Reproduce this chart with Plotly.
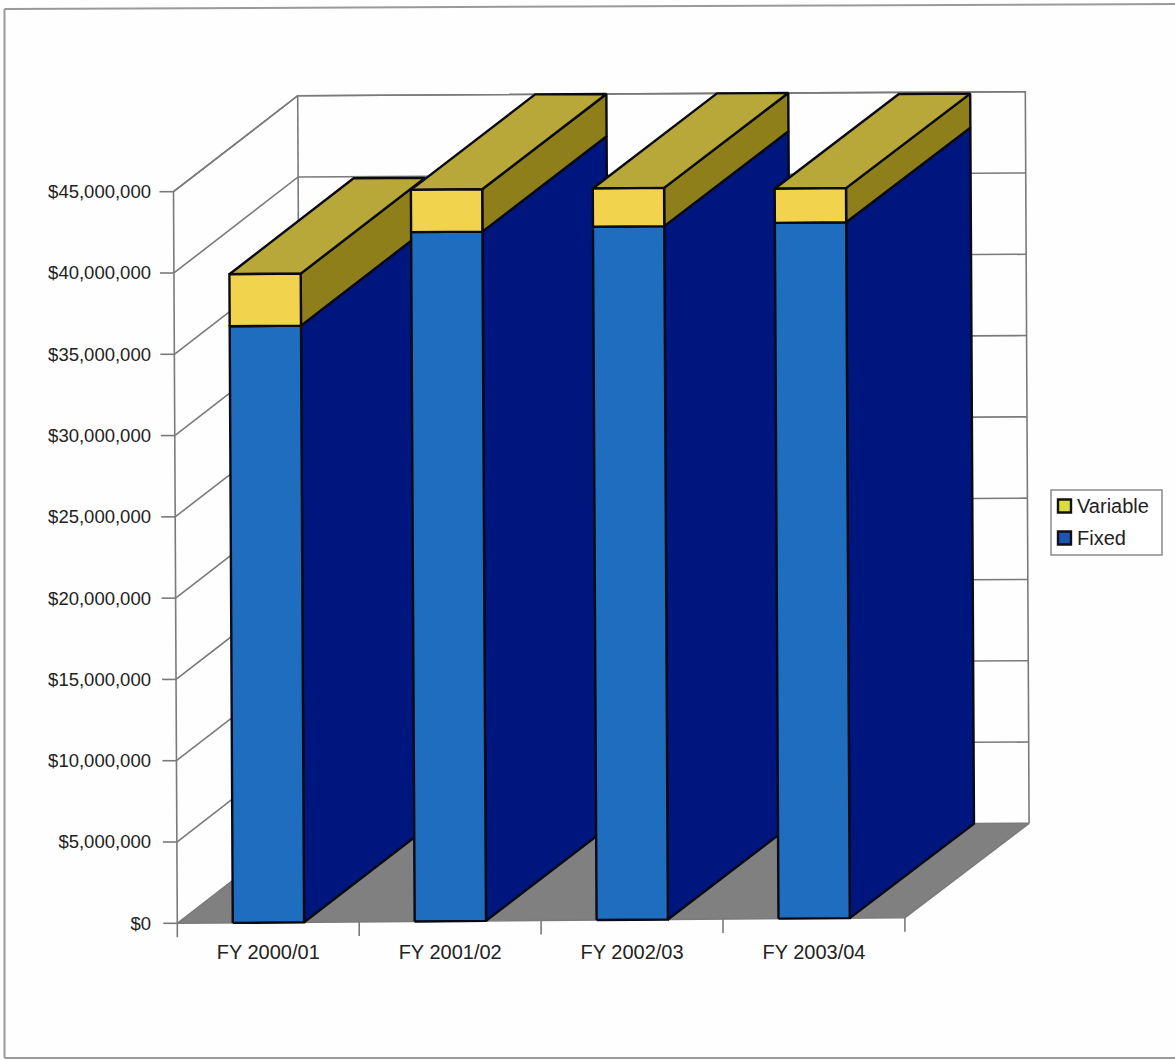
import plotly.graph_objects as go

categories = ["FY 2000/01", "FY 2001/02", "FY 2002/03", "FY 2003/04"]
fixed = [36700000, 42400000, 42650000, 42800000]
variable = [3200000, 2600000, 2350000, 2100000]
value_ticks = [0, 5000000, 10000000, 15000000, 20000000, 25000000, 30000000, 35000000, 40000000, 45000000]
value_tick_labels = ["$0", "$5,000,000", "$10,000,000", "$15,000,000", "$20,000,000",
                     "$25,000,000", "$30,000,000", "$35,000,000", "$40,000,000", "$45,000,000"]
legend_labels = ["Variable", "Fixed"]

WIDTH, HEIGHT = 1175, 1061
# The subplot is padded around the 3-D box so its oblique edges stay inside the clip area.
LEFT, TOP, RIGHT, BOTTOM = 155, 85, 1036, 938
ORIGIN_X, ORIGIN_Y = 177.3, 923.3

# Oblique projection, in pixels: one category step, the full value scale, full depth.
STEP_X, STEP_RISE = 181.9, 1.4
VMAX = 45000000
VALUE_PX, VALUE_LEAN = 731.6, -3.8
DEPTH_X, DEPTH_Y, DEPTH_Y_TAPER = 124.2, 96.0, 0.4
PX_PER_VALUE = VALUE_PX / VMAX

BAR_START, BAR_END = 0.305, 0.697
BAR_DEPTH = 1.0

FONT = dict(family="Liberation Sans, Arial, sans-serif", size=18.5, color="#222222")
WIDE_FONT = dict(family="Liberation Sans, Arial, sans-serif", size=20, color="#222222")
WALL = "#7a7a7a"
FRONT_FIXED, SIDE_FIXED = "#1f6dbf", "#00167f"
FRONT_VAR, SIDE_VAR, TOP_VAR = "#f2d34e", "#8f7f1a", "#b8a83a"
FLOOR = "#808080"


def project(cat, val, depth=0.0):
    """Map (category, value, depth) onto the flat axes of the 2-D subplot."""
    x = cat + (VALUE_LEAN * val / VMAX + DEPTH_X * depth) / STEP_X
    y = val + (STEP_RISE * cat + (DEPTH_Y - DEPTH_Y_TAPER * cat) * depth) / PX_PER_VALUE
    return x, y


def polyline(points):
    xy = [project(*p) for p in points]
    return [q[0] for q in xy], [q[1] for q in xy]


def add_lines(fig, points, color=WALL, width=1.6):
    xs, ys = polyline(points)
    fig.add_trace(go.Scatter(x=xs, y=ys, mode="lines", line=dict(color=color, width=width),
                             hoverinfo="skip", showlegend=False))


def add_face(fig, points, fill, name, line_color="#0a0a14", width=2.4):
    xs, ys = polyline(points + points[:1])
    fig.add_trace(go.Scatter(x=xs, y=ys, mode="lines", fill="toself", fillcolor=fill,
                             line=dict(color=line_color, width=width), name=name,
                             showlegend=False, hoverinfo="name"))


fig = go.Figure()
n = len(categories)

# Floor
add_face(fig, [(0, 0, 0), (n, 0, 0), (n, 0, 1), (0, 0, 1)], FLOOR, "Floor", line_color=WALL, width=1.5)

# Walls and gridlines
for v in value_ticks[1:]:
    add_lines(fig, [(0, v, 0), (0, v, 1), (n, v, 1)])
top_value = value_ticks[-1]
add_lines(fig, [(0, 0, 0), (0, top_value, 0), (0, top_value, 1), (n, top_value, 1), (n, 0, 1)])
add_lines(fig, [(0, 0, 1), (0, top_value, 1)])

# Tick marks, leaning with the axes they sit on
tick_px = 14
xs, ys = [], []
for v in value_ticks:
    x0, y0 = project(0, v)
    xs += [x0 - tick_px / STEP_X, x0, None]
    ys += [y0, y0, None]
for i in range(n + 1):
    x0, y0 = project(i, 0)
    xs += [x0, x0, None]
    ys += [y0, y0 - tick_px / PX_PER_VALUE, None]
fig.add_trace(go.Scatter(x=xs, y=ys, mode="lines", line=dict(color=WALL, width=1.6),
                         hoverinfo="skip", showlegend=False))

# Stacked bars, painted left to right so nearer faces cover earlier ones
for i, cat in enumerate(categories):
    a, b = i + BAR_START, i + BAR_END
    lo, mid, hi = 0, fixed[i], fixed[i] + variable[i]
    add_face(fig, [(b, lo, 0), (b, lo, BAR_DEPTH), (b, mid, BAR_DEPTH), (b, mid, 0)], SIDE_FIXED, "Fixed")
    add_face(fig, [(b, mid, 0), (b, mid, BAR_DEPTH), (b, hi, BAR_DEPTH), (b, hi, 0)], SIDE_VAR, "Variable")
    add_face(fig, [(a, hi, 0), (b, hi, 0), (b, hi, BAR_DEPTH), (a, hi, BAR_DEPTH)], TOP_VAR, "Variable")
    add_face(fig, [(a, lo, 0), (b, lo, 0), (b, mid, 0), (a, mid, 0)], FRONT_FIXED, "Fixed")
    add_face(fig, [(a, mid, 0), (b, mid, 0), (b, hi, 0), (a, hi, 0)], FRONT_VAR, "Variable")


def paper_x(px):
    return (px - LEFT) / (RIGHT - LEFT)


def paper_y(px):
    return (BOTTOM - px) / (BOTTOM - TOP)


shapes = []
# Page frame
frame = dict(type="line", xref="paper", yref="paper", line=dict(color="#9a9a9a", width=2))
shapes.append({**frame, "x0": paper_x(4.5), "x1": paper_x(4.5), "y0": paper_y(9), "y1": paper_y(1058)})
shapes.append({**frame, "x0": paper_x(4.5), "x1": paper_x(1175), "y0": paper_y(9), "y1": paper_y(4)})
shapes.append({**frame, "x0": paper_x(4.5), "x1": paper_x(1175), "y0": paper_y(1058), "y1": paper_y(1058)})

# Legend box with its colour keys
shapes.append(dict(type="rect", xref="paper", yref="paper", x0=paper_x(1051), x1=paper_x(1162),
                   y0=paper_y(490), y1=paper_y(555), line=dict(color="#8a8a8a", width=1.5),
                   fillcolor="#ffffff"))
annotations = []
for label, color, cy in zip(legend_labels, ["#dcdc40", "#1c56ae"], [506, 538]):
    shapes.append(dict(type="rect", xref="paper", yref="paper", x0=paper_x(1058), x1=paper_x(1071),
                       y0=paper_y(cy - 6.5), y1=paper_y(cy + 6.5), line=dict(color="#111111", width=2.4),
                       fillcolor=color))
    annotations.append(dict(text=label, xref="paper", yref="paper", x=paper_x(1075), y=paper_y(cy),
                            xanchor="left", yanchor="middle", showarrow=False, font=WIDE_FONT))

fig.update_layout(
    width=WIDTH, height=HEIGHT,
    margin=dict(l=LEFT, r=WIDTH - RIGHT, t=TOP, b=HEIGHT - BOTTOM, pad=0),
    paper_bgcolor="#fefefe", plot_bgcolor="rgba(0,0,0,0)",
    showlegend=False,
    shapes=shapes, annotations=annotations,
    xaxis=dict(range=[(LEFT - ORIGIN_X) / STEP_X, (RIGHT - ORIGIN_X) / STEP_X],
               tickmode="array", tickvals=[i + 0.5 for i in range(n)], ticktext=categories,
               ticks="", showgrid=False, zeroline=False, showline=False,
               tickfont=WIDE_FONT, ticklabelstandoff=0),
    yaxis=dict(range=[(ORIGIN_Y - BOTTOM) / PX_PER_VALUE, (ORIGIN_Y - TOP) / PX_PER_VALUE],
               tickmode="array", tickvals=value_ticks, ticktext=value_tick_labels,
               ticks="", showgrid=False, zeroline=False, showline=False,
               tickfont=FONT, ticklabelstandoff=3),
)

fig.write_html("out.html")
